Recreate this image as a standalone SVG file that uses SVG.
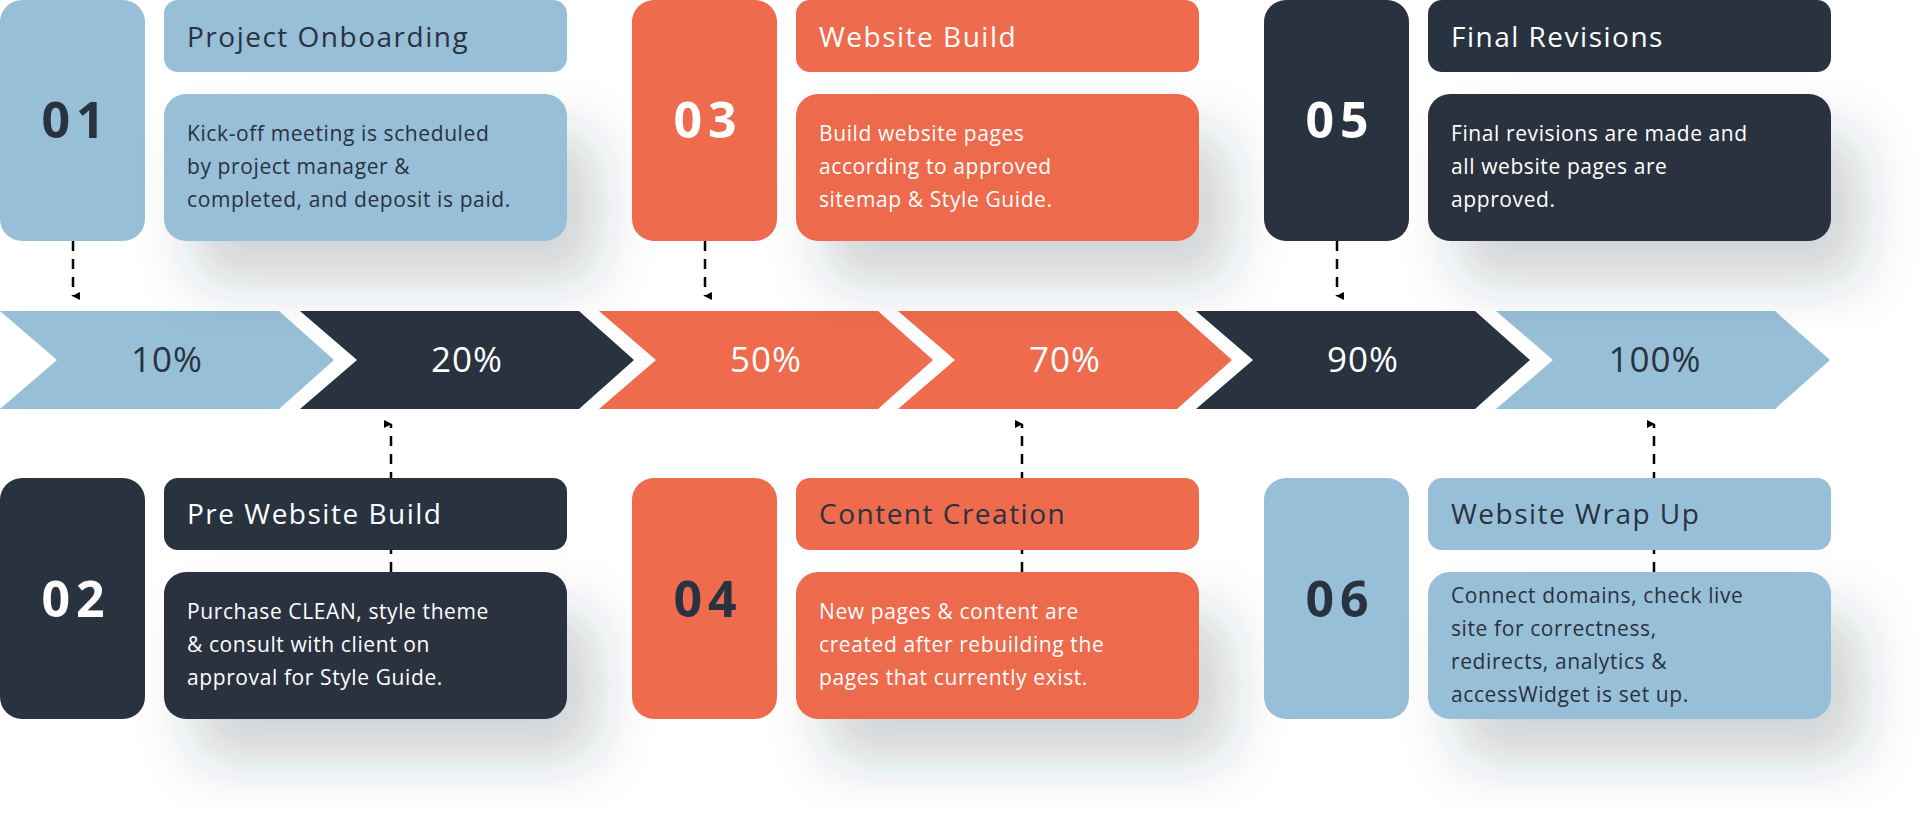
<svg xmlns="http://www.w3.org/2000/svg" width="1920" height="836" viewBox="0 0 1920 836">
<defs>
<filter id="sh" x="-30%" y="-30%" width="170%" height="190%"><feDropShadow dx="30" dy="40" stdDeviation="28" flood-color="#2a3140" flood-opacity="0.22"/></filter>
<marker id="ah" markerWidth="8" markerHeight="8" refX="4" refY="7" orient="auto-start-reverse" markerUnits="userSpaceOnUse" viewBox="0 0 8 8"><path d="M0,0 L8,0 L4,8 z" fill="#000"/></marker>
<style>
.lb{fill:#98BFD8}.dk{fill:#29323F}.or{fill:#EE6B4D}
text{font-family:"Open Sans","Liberation Sans",sans-serif}
.num{font-size:50px;font-weight:700;letter-spacing:6px;text-anchor:middle}
.tt{font-size:28px;letter-spacing:1.5px}
.ds{font-size:21px;letter-spacing:0.6px}
.pc{font-size:35px;text-anchor:middle;letter-spacing:1px}
.d{fill:#29323F}.w{fill:#fff}
.con{stroke:#000;stroke-width:2.5;stroke-dasharray:10 8;fill:none}
</style>
</defs>
<g id="connectors">
<path class="con" d="M73,241 V296" marker-end="url(#ah)"/>
<path class="con" d="M705,241 V296" marker-end="url(#ah)"/>
<path class="con" d="M1337,241 V296" marker-end="url(#ah)"/>
<path class="con" d="M391,572 V424" marker-end="url(#ah)"/>
<path class="con" d="M1022,572 V424" marker-end="url(#ah)"/>
<path class="con" d="M1654,572 V424" marker-end="url(#ah)"/>
</g>
<g id="chevrons">
<g id="c10"><path class="lb" d="M0,311 H279 L334,360 L279,409 H0 L57,360 z"/><text class="pc d" x="167" y="372">10%</text></g>
<g id="c20"><path class="dk" d="M300,311 H579 L634,360 L579,409 H300 L357,360 z"/><text class="pc w" x="467" y="372">20%</text></g>
<g id="c50"><path class="or" d="M599,311 H878 L933,360 L878,409 H599 L656,360 z"/><text class="pc w" x="766" y="372">50%</text></g>
<g id="c70"><path class="or" d="M898,311 H1177 L1232,360 L1177,409 H898 L955,360 z"/><text class="pc w" x="1065" y="372">70%</text></g>
<g id="c90"><path class="dk" d="M1196,311 H1475 L1530,360 L1475,409 H1196 L1253,360 z"/><text class="pc w" x="1363" y="372">90%</text></g>
<g id="c100"><path class="lb" d="M1496,311 H1775 L1830,360 L1775,409 H1496 L1553,360 z"/><text class="pc d" x="1655" y="372">100%</text></g>
</g>
<g id="n01">
<rect class="lb" x="0" y="0" width="145" height="241" rx="22"/><text class="num d" x="76" y="138">01</text>
<rect class="lb" x="164" y="0" width="403" height="72" rx="14"/><text class="tt d" x="187" y="47">Project Onboarding</text>
<rect class="lb" x="164" y="94" width="403" height="147" rx="22" filter="url(#sh)"/>
<text class="ds d" x="187"><tspan x="187" y="141">Kick-off meeting is scheduled</tspan><tspan x="187" y="174">by project manager &amp;</tspan><tspan x="187" y="207">completed, and deposit is paid.</tspan></text>
</g>
<g id="n03">
<rect class="or" x="632" y="0" width="145" height="241" rx="22"/><text class="num w" x="708" y="138">03</text>
<rect class="or" x="796" y="0" width="403" height="72" rx="14"/><text class="tt w" x="819" y="47">Website Build</text>
<rect class="or" x="796" y="94" width="403" height="147" rx="22" filter="url(#sh)"/>
<text class="ds w"><tspan x="819" y="141">Build website pages</tspan><tspan x="819" y="174">according to approved</tspan><tspan x="819" y="207">sitemap &amp; Style Guide.</tspan></text>
</g>
<g id="n05">
<rect class="dk" x="1264" y="0" width="145" height="241" rx="22"/><text class="num w" x="1340" y="138">05</text>
<rect class="dk" x="1428" y="0" width="403" height="72" rx="14"/><text class="tt w" x="1451" y="47">Final Revisions</text>
<rect class="dk" x="1428" y="94" width="403" height="147" rx="22" filter="url(#sh)"/>
<text class="ds w"><tspan x="1451" y="141">Final revisions are made and</tspan><tspan x="1451" y="174">all website pages are</tspan><tspan x="1451" y="207">approved.</tspan></text>
</g>
<g id="n02">
<rect class="dk" x="0" y="478" width="145" height="241" rx="22"/><text class="num w" x="76" y="617">02</text>
<rect class="dk" x="164" y="478" width="403" height="72" rx="14"/><text class="tt w" x="187" y="524">Pre Website Build</text>
<rect class="dk" x="164" y="572" width="403" height="147" rx="22" filter="url(#sh)"/>
<text class="ds w"><tspan x="187" y="619">Purchase CLEAN, style theme</tspan><tspan x="187" y="652">&amp; consult with client on</tspan><tspan x="187" y="685">approval for Style Guide.</tspan></text>
</g>
<g id="n04">
<rect class="or" x="632" y="478" width="145" height="241" rx="22"/><text class="num d" x="708" y="617">04</text>
<rect class="or" x="796" y="478" width="403" height="72" rx="14"/><text class="tt d" x="819" y="524">Content Creation</text>
<rect class="or" x="796" y="572" width="403" height="147" rx="22" filter="url(#sh)"/>
<text class="ds w"><tspan x="819" y="619">New pages &amp; content are</tspan><tspan x="819" y="652">created after rebuilding the</tspan><tspan x="819" y="685">pages that currently exist.</tspan></text>
</g>
<g id="n06">
<rect class="lb" x="1264" y="478" width="145" height="241" rx="22"/><text class="num d" x="1340" y="617">06</text>
<rect class="lb" x="1428" y="478" width="403" height="72" rx="14"/><text class="tt d" x="1451" y="524">Website Wrap Up</text>
<rect class="lb" x="1428" y="572" width="403" height="147" rx="22" filter="url(#sh)"/>
<text class="ds d"><tspan x="1451" y="603">Connect domains, check live</tspan><tspan x="1451" y="636">site for correctness,</tspan><tspan x="1451" y="669">redirects, analytics &amp;</tspan><tspan x="1451" y="702">accessWidget is set up.</tspan></text>
</g>
</svg>
